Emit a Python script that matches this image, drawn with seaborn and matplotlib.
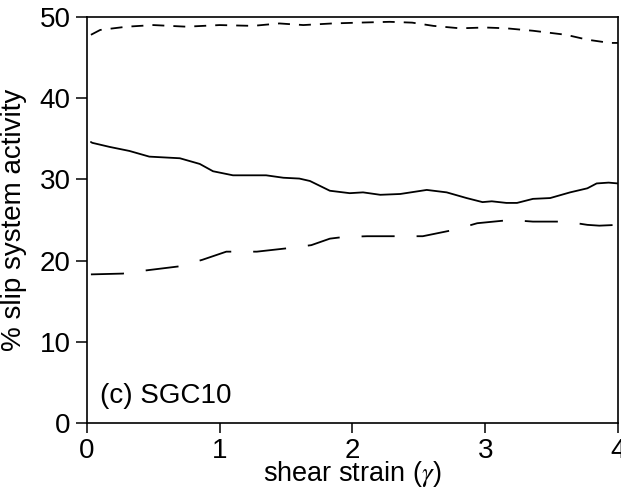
import matplotlib
matplotlib.use("Agg")
import matplotlib.pyplot as plt
import seaborn as sns

# data
top_x = [0.03, 0.1, 0.3, 0.5, 0.75, 1.0, 1.25, 1.45, 1.63, 1.85, 2.05, 2.28, 2.45, 2.61, 2.81, 3.0, 3.16, 3.36, 3.61, 3.77, 3.94, 4.0]
top_y = [47.8, 48.4, 48.8, 49.0, 48.8, 49.0, 48.9, 49.2, 49.0, 49.2, 49.3, 49.4, 49.3, 48.9, 48.6, 48.7, 48.6, 48.3, 47.8, 47.2, 46.8, 46.8]

mid_x = [0.03, 0.04, 0.17, 0.32, 0.47, 0.70, 0.85, 0.95, 1.10, 1.35, 1.48, 1.60, 1.68, 1.83, 1.98, 2.08, 2.21, 2.36, 2.56, 2.71, 2.86, 2.98, 3.05, 3.16, 3.24, 3.36, 3.49, 3.64, 3.77, 3.84, 3.93, 4.0]
mid_y = [34.6, 34.5, 34.0, 33.5, 32.8, 32.6, 31.9, 31.0, 30.5, 30.5, 30.2, 30.1, 29.8, 28.6, 28.3, 28.4, 28.1, 28.2, 28.7, 28.4, 27.7, 27.2, 27.3, 27.1, 27.1, 27.6, 27.7, 28.4, 28.9, 29.5, 29.6, 29.5]

low_x = [0.03, 0.27, 0.45, 0.70, 0.87, 1.05, 1.28, 1.50, 1.69, 1.83, 1.93, 2.11, 2.36, 2.53, 2.77, 2.94, 3.19, 3.36, 3.61, 3.77, 3.86, 4.0]
low_y = [18.3, 18.4, 18.8, 19.3, 20.1, 21.1, 21.1, 21.5, 21.9, 22.7, 22.9, 23.0, 23.0, 23.0, 23.8, 24.6, 25.0, 24.8, 24.8, 24.4, 24.3, 24.4]

x_ticks = [0, 1, 2, 3, 4]
y_ticks = [0, 10, 20, 30, 40, 50]

sns.set_style("ticks")
plt.rcParams['font.family'] = ['Liberation Sans', 'DejaVu Sans']
plt.rcParams['mathtext.fontset'] = 'stix'
plt.rcParams['lines.scale_dashes'] = False
plt.rcParams['text.color'] = 'black'
plt.rcParams['axes.labelcolor'] = 'black'

fig = plt.figure(figsize=(6.21, 4.94), dpi=100)
ax = fig.add_axes([0.140, 0.1437, 0.855, 0.822])

sns.lineplot(x=top_x, y=top_y, ax=ax, color="black", lw=1.3)
sns.lineplot(x=mid_x, y=mid_y, ax=ax, color="black", lw=1.3)
sns.lineplot(x=low_x, y=low_y, ax=ax, color="black", lw=1.3)
ax.lines[0].set_dashes([8.6, 6.5])
ax.lines[2].set_dashes([23.8, 15.8])

ax.set_xlim(0, 4)
ax.set_ylim(0, 50)
ax.set_xticks(x_ticks)
ax.set_yticks(y_ticks)
ax.tick_params(axis="x", direction="out", length=7.3, width=1.1, labelsize=20, colors="black", pad=3.5)
ax.tick_params(axis="y", direction="out", length=7.8, width=1.1, labelsize=20, colors="black", pad=4)

for s in ax.spines.values():
    s.set_visible(True)
    s.set_linewidth(1.2)
    s.set_color("black")

ax.set_xlabel(r"shear strain ($\gamma$)", fontsize=19.5, labelpad=-3.5)
ax.set_ylabel("% slip system activity", fontsize=20, labelpad=9)
ax.text(0.1, 2.5, "(c) SGC10", fontsize=20, ha="left", va="baseline")

fig.savefig("out.png", dpi=100)
